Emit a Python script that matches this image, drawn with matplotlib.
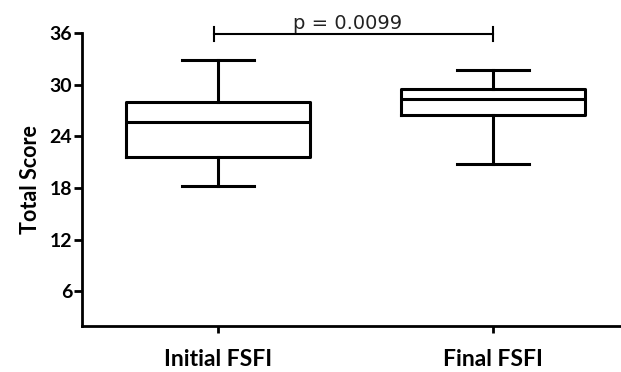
import matplotlib
matplotlib.use("Agg")
import matplotlib.pyplot as plt

categories = ["Initial FSFI", "Final FSFI"]
whislo = [18.3, 20.8]
q1 = [21.6, 26.5]
med = [25.7, 28.3]
q3 = [28.0, 29.5]
whishi = [32.9, 31.7]
yticks = [6, 12, 18, 24, 30, 36]
p_text = "p = 0.0099"
sig_y = 35.9

fig = plt.figure(figsize=(6.21, 3.72), dpi=100)
ax = fig.add_axes([0.132, 0.124, 0.868, 0.787])

stats = [dict(label=c, whislo=a, q1=b, med=m, q3=d, whishi=e, fliers=[])
         for c, a, b, m, d, e in zip(categories, whislo, q1, med, q3, whishi)]
lw = 2.2
ax.bxp(stats, positions=[1, 2], widths=0.67, showfliers=False,
       boxprops=dict(color="black", linewidth=lw),
       medianprops=dict(color="black", linewidth=lw),
       whiskerprops=dict(color="black", linewidth=lw),
       capprops=dict(color="black", linewidth=lw),
       capwidths=0.26)

ax.set_xlim(0.505, 2.465)
ax.set_ylim(2, 36)
ax.set_yticks(yticks)
ax.set_yticklabels([str(t) for t in yticks])
ax.spines["top"].set_visible(False)
ax.spines["right"].set_visible(False)
for s in ["left", "bottom"]:
    ax.spines[s].set_linewidth(2.0)
ax.tick_params(axis="y", direction="out", length=6, width=2.0, pad=1)
ax.tick_params(axis="x", direction="out", length=5, width=2.0, pad=12)
for lab in ax.get_yticklabels():
    lab.set_fontfamily("Lato"); lab.set_fontweight("bold"); lab.set_fontsize(14)
ax.set_xticklabels(categories, fontfamily="Lato", fontweight="bold", fontsize=16.5)
ax.set_ylabel("Total Score", fontfamily="Lato", fontweight="bold", fontsize=15.5, labelpad=6)

# significance bar
blw = 1.5
ax.plot([0.985, 2.0], [sig_y, sig_y], color="black", lw=blw, clip_on=False)
ax.plot([0.985, 0.985], [sig_y - 0.8, sig_y + 0.8], color="black", lw=blw, clip_on=False)
ax.plot([2.0, 2.0], [sig_y - 0.8, sig_y + 0.8], color="black", lw=blw, clip_on=False)
ax.text(1.47, sig_y + 0.6, p_text, ha="center", va="baseline", fontsize=14,
        fontfamily="DejaVu Sans", color="#222222", clip_on=False)

fig.savefig("out.png", dpi=100)
